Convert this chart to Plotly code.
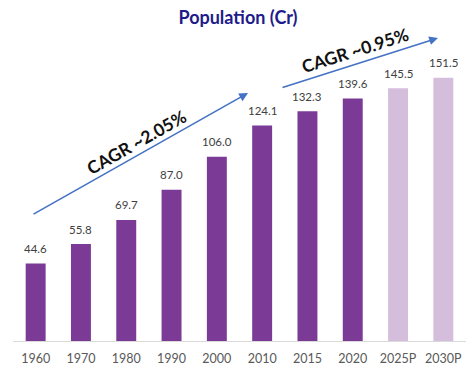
import plotly.graph_objects as go

years = ["1960", "1970", "1980", "1990", "2000", "2010", "2015", "2020", "2025P", "2030P"]
population = [44.6, 55.8, 69.7, 87.0, 106.0, 124.1, 132.3, 139.6, 145.5, 151.5]
projected = [False] * 8 + [True] * 2
value_labels = [f"{v:.1f}" for v in population]

dark = "#7B3A96"
light = "#D5BEDC"
colors = [light if p else dark for p in projected]

FONT = "Lato"

fig = go.Figure()
fig.add_trace(go.Bar(
    x=years, y=population, marker=dict(color=colors, line=dict(width=0)),
    hoverinfo="skip",
))

annotations = []
for i, (v, lab) in enumerate(zip(population, value_labels)):
    annotations.append(dict(
        x=i, y=v, xref="x", yref="y", text=lab, showarrow=False,
        yanchor="middle", yshift=15,
        font=dict(family=FONT, size=11.5, color="#404040"),
    ))

# Plot area: l=13, r=10, t=37, b=39 -> width 453, height 304
L, T, W, H = 13, 37, 453, 304
def px(xp, yp):
    return (xp - L) / W, (T + H - yp) / H

# Arrows
for tail, tip in [((32, 215), (248, 93)), ((281, 88), (438, 38))]:
    x, y = px(*tip)
    annotations.append(dict(
        x=x, y=y, xref="paper", yref="paper",
        ax=tail[0] - tip[0], ay=tail[1] - tip[1],
        showarrow=True, arrowhead=2, arrowsize=1.1, arrowwidth=1.6,
        arrowcolor="#4472C4", standoff=0, startstandoff=0, text="",
    ))

for txt, pos, ang in [("CAGR ~2.05%", (136, 142), -29.5), ("CAGR ~0.95%", (355, 51), -17.5)]:
    x, y = px(*pos)
    annotations.append(dict(
        x=x, y=y, xref="paper", yref="paper", text=f"<b>{txt}</b>",
        showarrow=False, textangle=ang, xanchor="center", yanchor="middle",
        font=dict(family=FONT, size=17.5, color="#111111"),
    ))

fig.update_layout(
    width=476, height=380,
    margin=dict(l=L, r=10, t=T, b=39, autoexpand=False),
    paper_bgcolor="white", plot_bgcolor="white",
    title=dict(text="<b>Population (Cr)</b>", x=0.5, xanchor="center", y=1 - 18 / 380,
               yanchor="middle", font=dict(family=FONT, size=18, color="#1E1B8A")),
    bargap=0.56,
    showlegend=False,
    hovermode=False,
    annotations=annotations,
    xaxis=dict(type="category", range=[-0.5, len(years) - 0.5], showgrid=False,
               showline=True, linecolor="#D9D9D9", linewidth=1,
               ticks="outside", ticklen=6, tickcolor="rgba(0,0,0,0)",
               tickfont=dict(family=FONT, size=12.5, color="#595959")),
    yaxis=dict(range=[0, 175], visible=False, showgrid=False, zeroline=False),
)

fig.write_html("out.html", config={"displayModeBar": False},
               post_script="document.body.style.margin='0';")
